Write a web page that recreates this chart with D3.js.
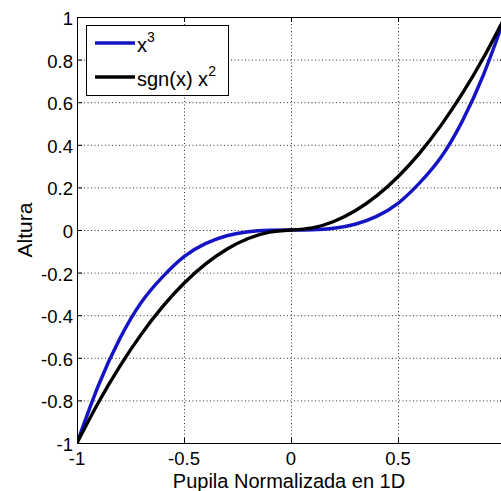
<!DOCTYPE html>
<html>
<head>
<meta charset="utf-8">
<script src="https://cdn.jsdelivr.net/npm/d3@7"></script>
<style>
  body { margin: 0; background: #fff; }
  svg { display: block; font-family: "Liberation Sans", Arial, sans-serif; }
  .grid line { stroke: #333; stroke-width: 1; stroke-dasharray: 1 2.5; }
  .tick-label { font-size: 18.5px; fill: #000; }
</style>
</head>
<body>
<svg width="501" height="491"></svg>
<script>
const width = 501;
const height = 491;
const svg = d3.select("svg");

const xs = [-1, -0.9, -0.8, -0.7, -0.6, -0.5, -0.4, -0.3, -0.2, -0.1, 0,
            0.1, 0.2, 0.3, 0.4, 0.5, 0.6, 0.7, 0.8, 0.9, 1];
const cubeVals = [-1, -0.73, -0.51, -0.34, -0.22, -0.125, -0.064, -0.027, -0.008, -0.001, 0,
                  0.001, 0.008, 0.027, 0.064, 0.125, 0.22, 0.34, 0.51, 0.73, 1];
const signSqVals = [-1, -0.81, -0.64, -0.49, -0.36, -0.25, -0.16, -0.09, -0.04, -0.01, 0,
                    0.01, 0.04, 0.09, 0.16, 0.25, 0.36, 0.49, 0.64, 0.81, 1];

// the right end (x = 1) falls just outside the picture, so its label is not shown
const xTicks = [-1, -0.5, 0, 0.5, 1];
const xTickLabels = ["-1", "-0.5", "0", "0.5", ""];
const yTicks = [-1, -0.8, -0.6, -0.4, -0.2, 0, 0.2, 0.4, 0.6, 0.8, 1];
const yTickLabels = ["-1", "-0.8", "-0.6", "-0.4", "-0.2", "0", "0.2", "0.4", "0.6", "0.8", "1"];

const series = [
    { name: "x", sup: "3", values: cubeVals, color: "#1414c4" },
    { name: "sgn(x) x", sup: "2", values: signSqVals, color: "#000000" }
];

const plotLeft = 77, plotRight = 505, plotTop = 17, plotBottom = 443;

const x = d3.scaleLinear().domain([-1, 1]).range([plotLeft, plotRight]);
const y = d3.scaleLinear().domain([-1, 1]).range([plotBottom, plotTop]);

// grid
const grid = svg.append("g").attr("class", "grid");
grid.selectAll(".gx")
    .data(xTicks.filter(d => d > -1 && d < 1))
    .enter()
    .append("line")
    .attr("x1", d => x(d) + 0.5)
    .attr("x2", d => x(d) + 0.5)
    .attr("y1", plotTop)
    .attr("y2", plotBottom);
grid.selectAll(".gy")
    .data(yTicks.filter(d => d > -1 && d < 1))
    .enter()
    .append("line")
    .attr("x1", plotLeft)
    .attr("x2", plotRight)
    .attr("y1", d => y(d) + 0.5)
    .attr("y2", d => y(d) + 0.5);

// curves
const line = d3.line()
    .x(d => x(d[0]))
    .y(d => y(d[1]))
    .curve(d3.curveNatural);

svg.append("clipPath").attr("id", "plotclip")
    .append("rect")
    .attr("x", plotLeft)
    .attr("y", plotTop - 2)
    .attr("width", plotRight - plotLeft)
    .attr("height", plotBottom - plotTop + 4);

svg.append("g")
    .attr("clip-path", "url(#plotclip)")
    .selectAll("path")
    .data(series)
    .enter()
    .append("path")
    .attr("d", s => line(xs.map((v, i) => [v, s.values[i]])))
    .attr("fill", "none")
    .attr("stroke", s => s.color)
    .attr("stroke-width", 3.4)
    .attr("stroke-linejoin", "round");

// box
svg.append("rect")
    .attr("x", plotLeft + 0.5)
    .attr("y", plotTop + 0.5)
    .attr("width", plotRight - plotLeft)
    .attr("height", plotBottom - plotTop)
    .attr("fill", "none")
    .attr("stroke", "#000")
    .attr("stroke-width", 1);

// inward ticks
const tickLen = 5;
xTicks.forEach(t => {
    svg.append("line").attr("x1", x(t) + 0.5).attr("x2", x(t) + 0.5)
        .attr("y1", plotBottom).attr("y2", plotBottom - tickLen).attr("stroke", "#000");
    svg.append("line").attr("x1", x(t) + 0.5).attr("x2", x(t) + 0.5)
        .attr("y1", plotTop).attr("y2", plotTop + tickLen).attr("stroke", "#000");
});
yTicks.forEach(t => {
    svg.append("line").attr("x1", plotLeft).attr("x2", plotLeft + tickLen)
        .attr("y1", y(t) + 0.5).attr("y2", y(t) + 0.5).attr("stroke", "#000");
    svg.append("line").attr("x1", plotRight - tickLen).attr("x2", plotRight)
        .attr("y1", y(t) + 0.5).attr("y2", y(t) + 0.5).attr("stroke", "#000");
});

// tick labels
svg.selectAll(".xl")
    .data(xTicks)
    .enter()
    .append("text")
    .attr("class", "tick-label")
    .attr("x", d => x(d))
    .attr("y", plotBottom + 22)
    .attr("text-anchor", "middle")
    .text((d, i) => xTickLabels[i]);

svg.selectAll(".yl")
    .data(yTicks)
    .enter()
    .append("text")
    .attr("class", "tick-label")
    .attr("x", plotLeft - 4)
    .attr("y", d => y(d) + 8)
    .attr("text-anchor", "end")
    .text((d, i) => yTickLabels[i]);

// axis titles
svg.append("text")
    .attr("x", 289)
    .attr("y", 488)
    .attr("text-anchor", "middle")
    .attr("font-size", 20)
    .text("Pupila Normalizada en 1D");

svg.append("text")
    .attr("transform", `translate(32, ${y(0)}) rotate(-90)`)
    .attr("text-anchor", "middle")
    .attr("font-size", 21)
    .text("Altura");

// legend
const legend = svg.append("g");
legend.append("rect")
    .attr("x", 86.5)
    .attr("y", 25.5)
    .attr("width", 142)
    .attr("height", 70)
    .attr("fill", "#fff")
    .attr("stroke", "#000");

series.forEach((s, i) => {
    const ly = 43 + i * 34;
    legend.append("line")
        .attr("x1", 95).attr("x2", 135)
        .attr("y1", ly).attr("y2", ly)
        .attr("stroke", s.color)
        .attr("stroke-width", 3.4);
    const t = legend.append("text")
        .attr("x", 137)
        .attr("y", ly + 9)
        .attr("font-size", 20);
    t.append("tspan").text(s.name);
    t.append("tspan").attr("dy", -10).attr("font-size", 14).text(s.sup);
});
</script>
</body>
</html>
